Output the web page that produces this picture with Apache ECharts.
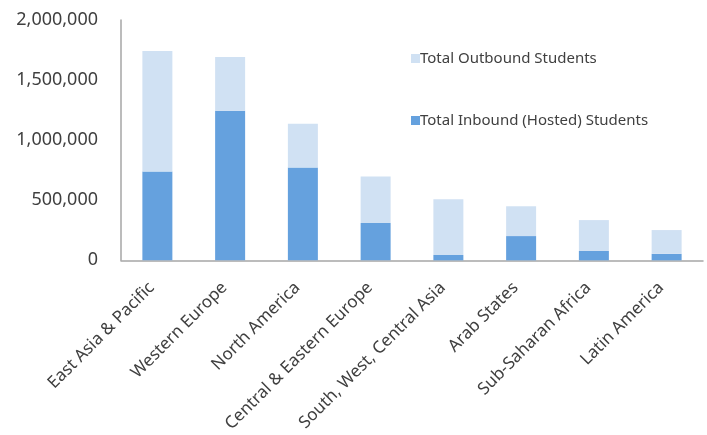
<!DOCTYPE html>
<html>
<head>
<meta charset="utf-8">
<script src="https://cdn.jsdelivr.net/npm/echarts@6/dist/echarts.min.js"></script>
<style>html,body{margin:0;padding:0;background:#fff;}#c{width:707px;height:435px;}</style>
</head>
<body>
<div id="c"></div>
<script>
const categories = ["East Asia & Pacific", "Western Europe", "North America", "Central & Eastern Europe", "South, West, Central Asia", "Arab States", "Sub-Saharan Africa", "Latin America"];
const inbound = [740000, 1245000, 773000, 310000, 45000, 202000, 78000, 54000];
const outbound = [1003000, 447000, 363000, 388000, 463000, 248000, 257000, 198000];
const yTicks = [0, 500000, 1000000, 1500000, 2000000];

const chart = echarts.init(document.getElementById('c'), null, {renderer: 'canvas'});
const font = '"Noto Sans", "Open Sans", sans-serif';
chart.setOption({
  animation: false,
  backgroundColor: '#ffffff',
  grid: {left: 121, right: 4, top: 20, bottom: 174, containLabel: false},
  legend: {
    orient: 'vertical',
    left: 406, top: 46,
    itemWidth: 9, itemHeight: 9, itemGap: 47,
    icon: 'rect',
    data: ['Total Outbound Students', 'Total Inbound (Hosted) Students'],
    textStyle: {fontFamily: font, fontSize: 15, color: '#404040', padding: [0, 0, 0, -5]}
  },
  xAxis: {
    type: 'category',
    data: categories,
    axisLine: {show: true, lineStyle: {color: '#a6a6a6', width: 1.5}},
    axisTick: {show: false},
    axisLabel: {rotate: 45, interval: 0, margin: 19, padding: [0, 8, 0, 0], fontFamily: font, fontSize: 17, color: '#404040'}
  },
  yAxis: {
    type: 'value',
    min: yTicks[0], max: yTicks[yTicks.length - 1], interval: 500000,
    axisLine: {show: true, lineStyle: {color: '#a6a6a6', width: 1.5}},
    axisTick: {show: false},
    splitLine: {show: false},
    axisLabel: {
      margin: 23, fontFamily: font, fontSize: 18, color: '#404040',
      formatter: v => v.toLocaleString('en-US')
    }
  },
  series: [
    {name: 'Total Inbound (Hosted) Students', type: 'bar', stack: 's', data: inbound,
     barWidth: 30, itemStyle: {color: '#65A1DE'}},
    {name: 'Total Outbound Students', type: 'bar', stack: 's', data: outbound,
     barWidth: 30, itemStyle: {color: '#D0E1F3'}}
  ]
});
</script>
</body>
</html>
